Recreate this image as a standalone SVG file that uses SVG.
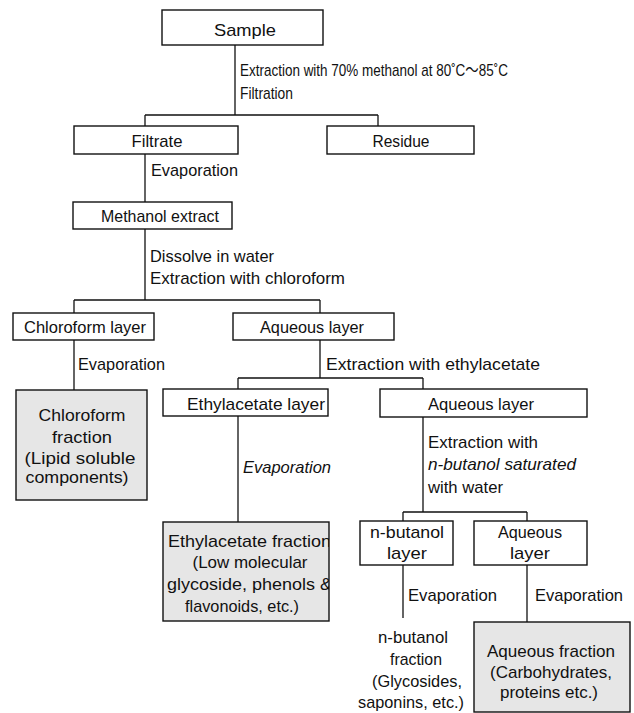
<svg xmlns="http://www.w3.org/2000/svg" width="634" height="713" viewBox="0 0 634 713">
<defs>
<style>
text{font-family:"Liberation Sans",Arial,sans-serif;font-size:17px;fill:#111}
.m{text-anchor:middle}
.i{font-style:italic}
.cjk{font-family:"Liberation Sans","Noto Sans CJK JP",sans-serif}
.box{fill:#fff;stroke:#111;stroke-width:1.4}
.gbox{fill:#e6e6e6;stroke:#111;stroke-width:1.4}
.c path{fill:none;stroke:#111;stroke-width:1.3}
</style>
<clipPath id="clipEA"><rect x="163" y="522" width="166" height="99"/></clipPath>
</defs>
<rect width="634" height="713" fill="#fff"/>
<g class="c" id="connectors">
<path d="M235,45V115M145,115H378M145,115V126M378,115V126"/>
<path d="M145,154V202"/>
<path d="M145,229V300M74,300H320M74,300V313M320,300V313"/>
<path d="M74,340V390"/>
<path d="M320,340V378M238,378H423M238,378V389M423,378V389"/>
<path d="M238,416V522"/>
<path d="M423,417V512M403,512H527M403,512V521M527,512V521"/>
<path d="M403,565V618"/>
<path d="M527,565V622"/>
</g>
<g id="labels">
<text class="cjk" x="240" y="76" textLength="268" lengthAdjust="spacingAndGlyphs">Extraction with 70% methanol at 80˚C～85˚C</text>
<text x="240" y="99" textLength="53" lengthAdjust="spacingAndGlyphs">Filtration</text>
<text x="151" y="176" textLength="87" lengthAdjust="spacingAndGlyphs">Evaporation</text>
<text x="150" y="262" textLength="124" lengthAdjust="spacingAndGlyphs">Dissolve in water</text>
<text x="150" y="284" textLength="195" lengthAdjust="spacingAndGlyphs">Extraction with chloroform</text>
<text x="78" y="370" textLength="87" lengthAdjust="spacingAndGlyphs">Evaporation</text>
<text x="326" y="370" textLength="214" lengthAdjust="spacingAndGlyphs">Extraction with ethylacetate</text>
<text class="i" x="243" y="473" textLength="88" lengthAdjust="spacingAndGlyphs">Evaporation</text>
<text x="428" y="448" textLength="110" lengthAdjust="spacingAndGlyphs">Extraction with</text>
<text class="i" x="428" y="470" textLength="148" lengthAdjust="spacingAndGlyphs">n-butanol saturated</text>
<text x="428" y="493" textLength="75" lengthAdjust="spacingAndGlyphs">with water</text>
<text x="408" y="601" textLength="89" lengthAdjust="spacingAndGlyphs">Evaporation</text>
<text x="535" y="601" textLength="88" lengthAdjust="spacingAndGlyphs">Evaporation</text>
</g>
<g id="sample"><rect class="box" x="162" y="10" width="161" height="35"/><text class="m" x="245" y="36" textLength="62" lengthAdjust="spacingAndGlyphs">Sample</text></g>
<g id="filtrate"><rect class="box" x="74" y="126" width="164" height="28"/><text class="m" x="157" y="147" textLength="51" lengthAdjust="spacingAndGlyphs">Filtrate</text></g>
<g id="residue"><rect class="box" x="327" y="126" width="147" height="28"/><text class="m" x="401" y="147" textLength="57" lengthAdjust="spacingAndGlyphs">Residue</text></g>
<g id="methanol"><rect class="box" x="73" y="202" width="159" height="27"/><text class="m" x="160" y="222" textLength="118" lengthAdjust="spacingAndGlyphs">Methanol extract</text></g>
<g id="chloroform-layer"><rect class="box" x="13" y="313" width="141" height="27"/><text class="m" x="85" y="333" textLength="122" lengthAdjust="spacingAndGlyphs">Chloroform layer</text></g>
<g id="aqueous-layer-1"><rect class="box" x="233" y="313" width="161" height="27"/><text class="m" x="312" y="333" textLength="104" lengthAdjust="spacingAndGlyphs">Aqueous layer</text></g>
<g id="chloroform-fraction"><rect class="gbox" x="16" y="390" width="131" height="110"/>
<text class="m" x="82" y="421" textLength="87" lengthAdjust="spacingAndGlyphs">Chloroform</text>
<text class="m" x="82" y="443" textLength="60" lengthAdjust="spacingAndGlyphs">fraction</text>
<text class="m" x="80" y="464" textLength="111" lengthAdjust="spacingAndGlyphs">(Lipid soluble</text>
<text class="m" x="77" y="483" textLength="103" lengthAdjust="spacingAndGlyphs">components)</text></g>
<g id="ethylacetate-layer"><rect class="box" x="163" y="389" width="165" height="27"/><text class="m" x="256" y="410" textLength="138" lengthAdjust="spacingAndGlyphs">Ethylacetate layer</text></g>
<g id="aqueous-layer-2"><rect class="box" x="380" y="389" width="207" height="28"/><text class="m" x="481" y="410" textLength="106" lengthAdjust="spacingAndGlyphs">Aqueous layer</text></g>
<g id="ethylacetate-fraction"><rect class="gbox" x="163" y="522" width="166" height="99"/>
<g clip-path="url(#clipEA)">
<text x="168" y="547" textLength="163" lengthAdjust="spacingAndGlyphs">Ethylacetate fraction</text>
<text class="m" x="250" y="568" textLength="115" lengthAdjust="spacingAndGlyphs">(Low molecular</text>
<text x="167" y="590" textLength="165" lengthAdjust="spacingAndGlyphs">glycoside, phenols &amp;</text>
<text class="m" x="242" y="612" textLength="114" lengthAdjust="spacingAndGlyphs">flavonoids, etc.)</text>
</g></g>
<g id="n-butanol-layer"><rect class="box" x="360" y="521" width="93" height="44"/>
<text class="m" x="407" y="538" textLength="74" lengthAdjust="spacingAndGlyphs">n-butanol</text>
<text class="m" x="407" y="559" textLength="40" lengthAdjust="spacingAndGlyphs">layer</text></g>
<g id="aqueous-layer-3"><rect class="box" x="474" y="521" width="113" height="44"/>
<text class="m" x="530" y="538" textLength="64" lengthAdjust="spacingAndGlyphs">Aqueous</text>
<text class="m" x="530" y="559" textLength="40" lengthAdjust="spacingAndGlyphs">layer</text></g>
<g id="n-butanol-fraction">
<text class="m" x="413" y="643" textLength="70" lengthAdjust="spacingAndGlyphs">n-butanol</text>
<text class="m" x="416" y="665" textLength="52" lengthAdjust="spacingAndGlyphs">fraction</text>
<text class="m" x="417" y="687" textLength="90" lengthAdjust="spacingAndGlyphs">(Glycosides,</text>
<text class="m" x="411" y="708" textLength="106" lengthAdjust="spacingAndGlyphs">saponins, etc.)</text></g>
<g id="aqueous-fraction"><rect class="gbox" x="474" y="622" width="156" height="90"/>
<text class="m" x="551" y="657" textLength="128" lengthAdjust="spacingAndGlyphs">Aqueous fraction</text>
<text class="m" x="551" y="678" textLength="122" lengthAdjust="spacingAndGlyphs">(Carbohydrates,</text>
<text class="m" x="549" y="698" textLength="98" lengthAdjust="spacingAndGlyphs">proteins etc.)</text></g>
</svg>
